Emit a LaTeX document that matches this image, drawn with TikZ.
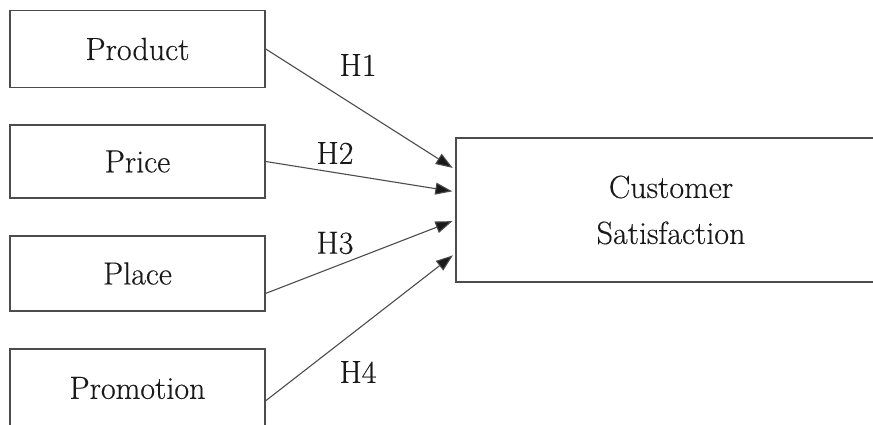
\documentclass[tikz,border=0pt]{standalone}
\usepackage{fontspec}
\setmainfont{Latin Modern Roman}[UprightFeatures={FakeBold=0.35}]
\usetikzlibrary{arrows.meta,calc}
\begin{document}
\begin{tikzpicture}[x=1pt,y=-1pt,
  box/.style={draw=black!70,line width=1.5pt,minimum width=255pt,inner sep=0pt,
    font=\fontsize{32}{46}\selectfont,text=black!90},
  conn/.style={draw=black!70,line width=1.1pt,-{Triangle[length=17pt,width=12pt,fill=black!90]},shorten >=3pt},
  lab/.style={font=\fontsize{32}{34}\selectfont,text=black!90}]
\useasboundingbox (0,0) rectangle (873,425);
\node[box,minimum height=77pt] (product) at (137.5,49) {Product};
\node[box,minimum height=73pt] (price) at (137.5,161.5) {Price};
\node[box,minimum height=75pt] (place) at (137.5,273.5) {Place};
\node[box,minimum height=78pt] (promo) at (137.5,388) {Promotion};
\node[box,minimum width=430pt,minimum height=144pt,align=center] (cs) at (671,210) {Customer\\Satisfaction};
\coordinate (e1) at ($(cs.north west)!0.222!(cs.south west)$);
\coordinate (e2) at ($(cs.north west)!0.375!(cs.south west)$);
\coordinate (e3) at ($(cs.north west)!0.569!(cs.south west)$);
\coordinate (e4) at ($(cs.north west)!0.799!(cs.south west)$);
\coordinate (s3) at ($(place.north east)!0.76!(place.south east)$);
\coordinate (s4) at ($(promo.north east)!0.66!(promo.south east)$);
\draw[conn] (product.east) -- (e1);
\draw[conn] (price.east) -- (e2);
\draw[conn] (s3) -- (e3);
\draw[conn] (s4) -- (e4);
\node[lab] (h1) at (358,65) {H1};
\node[lab] (h2) at (335,153) {H2};
\node[lab] (h3) at (335,243) {H3};
\node[lab] (h4) at (358,372) {H4};
\end{tikzpicture}
\end{document}
